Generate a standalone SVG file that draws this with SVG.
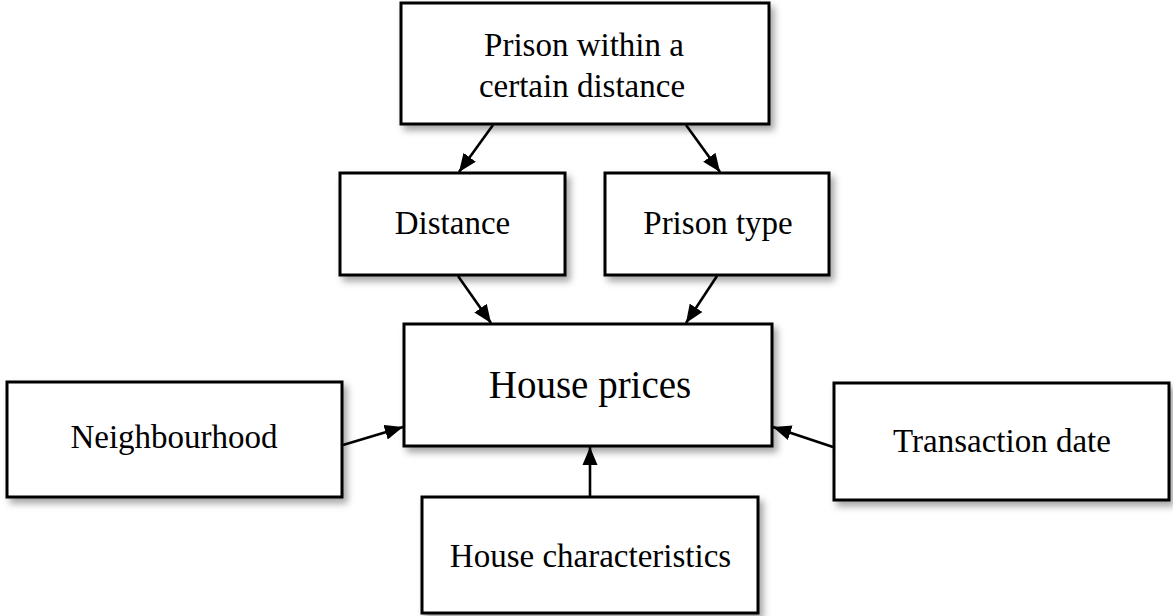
<svg xmlns="http://www.w3.org/2000/svg" width="1173" height="616" viewBox="0 0 1173 616">
<defs>
<filter id="sh" x="-10%" y="-10%" width="130%" height="140%">
<feDropShadow dx="4" dy="5" stdDeviation="3.5" flood-color="#000" flood-opacity="0.35"/>
</filter>
<marker id="ah" viewBox="0 0 12 10" refX="12" refY="5" markerWidth="7" markerHeight="6" markerUnits="strokeWidth" orient="auto">
<path d="M0,0 L12,5 L0,10 Z" fill="#000"/>
</marker>
</defs>
<style>
.box{fill:#fff;stroke:#000;stroke-width:3;filter:url(#sh)}
.t{font-family:"Liberation Serif","Times New Roman",serif;font-size:33px;fill:#000;text-anchor:middle}
.big{font-size:39px}
.c{stroke:#000;stroke-width:2.6;fill:none;marker-end:url(#ah)}
</style>
<rect width="1173" height="616" fill="#fff"/>
<g id="n-prison">
<rect class="box" x="401" y="3" width="368" height="121"/>
<text class="t" x="584" y="56">Prison within a</text>
<text class="t" x="582" y="97">certain distance</text>
</g>
<g id="n-distance">
<rect class="box" x="340" y="173" width="225" height="102"/>
<text class="t" x="452.5" y="234">Distance</text>
</g>
<g id="n-type">
<rect class="box" x="605" y="173" width="224" height="102"/>
<text class="t" x="718" y="234">Prison type</text>
</g>
<g id="n-house">
<rect class="box" x="404" y="324" width="368" height="122"/>
<text class="t big" x="590" y="398">House prices</text>
</g>
<g id="n-neigh">
<rect class="box" x="7" y="382" width="335" height="115"/>
<text class="t" x="174" y="448">Neighbourhood</text>
</g>
<g id="n-trans">
<rect class="box" x="834" y="383" width="335" height="117"/>
<text class="t" x="1002" y="452">Transaction date</text>
</g>
<g id="n-char">
<rect class="box" x="422" y="497" width="336" height="116"/>
<text class="t" x="590.5" y="567">House characteristics</text>
</g>
<g id="connectors">
<line class="c" x1="493" y1="125" x2="459" y2="172"/>
<line class="c" x1="686" y1="125" x2="720" y2="172"/>
<line class="c" x1="458" y1="276" x2="491" y2="323"/>
<line class="c" x1="717" y1="276" x2="686" y2="323"/>
<line class="c" x1="343" y1="445" x2="403" y2="427"/>
<line class="c" x1="833" y1="447" x2="773" y2="427"/>
<line class="c" x1="590" y1="497" x2="590" y2="447"/>
</g>
</svg>
